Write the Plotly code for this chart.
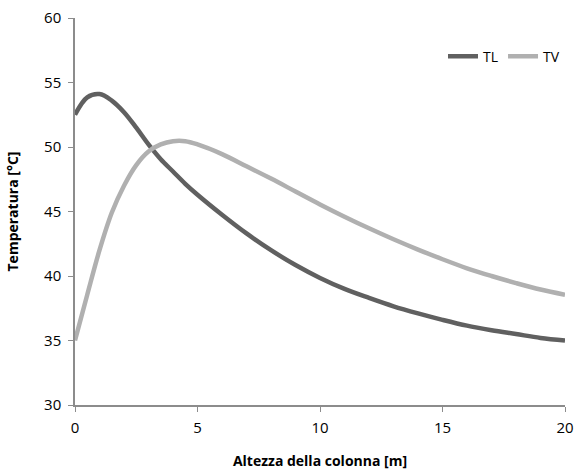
import plotly.graph_objects as go

x_tl = [0, 0.5, 1.0, 1.5, 2.0, 2.5, 3.0, 3.5, 4, 4.5, 5, 6, 7, 8, 9, 10, 11, 12, 13, 14, 15, 16, 17, 18, 19, 20]
tl = [52.5, 53.85, 54.1, 53.6, 52.7, 51.5, 50.2, 49.05, 48.1, 47.15, 46.3, 44.75, 43.3, 42.0, 40.85, 39.85, 39.0, 38.3, 37.65, 37.1, 36.6, 36.15, 35.8, 35.5, 35.2, 35.0]

x_tv = [0, 0.5, 1.0, 1.5, 2.0, 2.5, 3.0, 3.5, 4.0, 4.5, 5.0, 6, 7, 8, 9, 10, 11, 12, 13, 14, 15, 16, 17, 18, 19, 20]
tv = [35.0, 38.55, 42.0, 44.9, 47.0, 48.6, 49.65, 50.2, 50.45, 50.45, 50.2, 49.45, 48.5, 47.55, 46.55, 45.55, 44.6, 43.7, 42.85, 42.05, 41.3, 40.6, 40.0, 39.45, 38.95, 38.55]

x_ticks = [0, 5, 10, 15, 20]
y_ticks = [30, 35, 40, 45, 50, 55, 60]

fig = go.Figure()
fig.add_trace(go.Scatter(x=x_tl, y=tl, mode="lines", name="TL",
                         line=dict(color="#606060", width=4.5, shape="spline", smoothing=1.0)))
fig.add_trace(go.Scatter(x=x_tv, y=tv, mode="lines", name="TV",
                         line=dict(color="#b0b0b0", width=4.5, shape="spline", smoothing=1.0)))

font_family = "Open Sans, Liberation Sans, sans-serif"
fig.update_layout(
    width=576, height=470,
    margin=dict(l=75, r=11, t=18, b=65, autoexpand=False),
    paper_bgcolor="white", plot_bgcolor="white",
    font=dict(family=font_family, size=14, color="black"),
    showlegend=True,
    legend=dict(orientation="h", x=1.0, xanchor="right", y=0.9, yanchor="middle",
                font=dict(size=14), bgcolor="rgba(0,0,0,0)"),
)
fig.update_xaxes(range=[0, 20], tickvals=x_ticks, showgrid=False, zeroline=False,
                 showline=True, linecolor="#8c8c8c", linewidth=1.5, automargin=False,
                 ticks="outside", ticklen=5, tickcolor="#8c8c8c", ticklabeloverflow="allow",
                 tickfont=dict(size=15), ticklabelstandoff=3,
                 title=dict(text="<b>Altezza della colonna [m]</b>", font=dict(size=14), standoff=24))
fig.update_yaxes(range=[30, 60], tickvals=y_ticks, showgrid=False, zeroline=False,
                 showline=True, linecolor="#8c8c8c", linewidth=1.5, automargin=False,
                 ticks="outside", ticklen=5, tickcolor="#8c8c8c", ticklabelstandoff=4,
                 ticklabeloverflow="allow", tickfont=dict(size=15),
                 title=dict(text="<b>Temperatura [°C]</b>", font=dict(size=14), standoff=22))

fig.write_html("out.html", config={"displayModeBar": False},
               post_script="document.body.style.margin='0';document.body.style.overflow='hidden';")
